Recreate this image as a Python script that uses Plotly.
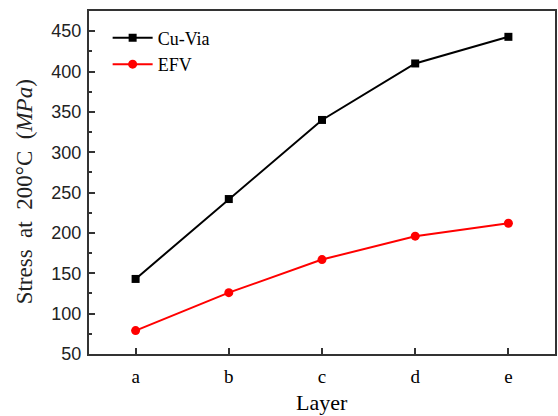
import plotly.graph_objects as go

layers = ["a", "b", "c", "d", "e"]
cu_via = [143, 242, 340, 410, 443]
efv = [79, 126, 167, 196, 212]

fig = go.Figure()
fig.add_trace(go.Scatter(x=layers, y=cu_via, mode="lines+markers", name="Cu-Via",
                         line=dict(color="black", width=2),
                         marker=dict(symbol="square", size=8, color="black")))
fig.add_trace(go.Scatter(x=layers, y=efv, mode="lines+markers", name="EFV",
                         line=dict(color="red", width=2),
                         marker=dict(symbol="circle", size=9, color="red")))

axis_common = dict(showline=True, linecolor="#333", linewidth=2, mirror=True,
                   showgrid=False, zeroline=False, ticks="inside", tickcolor="#333")
fig.update_layout(
    width=558, height=416,
    margin=dict(l=89, r=1, t=11, b=62),
    paper_bgcolor="white", plot_bgcolor="white",
    showlegend=True,
    legend=dict(x=0.04, y=0.975, xanchor="left", yanchor="top", itemwidth=40,
                font=dict(family="Liberation Serif", size=18, color="black"),
                bgcolor="rgba(0,0,0,0)", tracegroupgap=0),
    xaxis=dict(**axis_common, range=[-0.5, 4.5], ticklen=6, tickwidth=1.5, ticklabelstandoff=4,
               tickfont=dict(family="Liberation Serif", size=19, color="black")),
    yaxis=dict(**axis_common, range=[50, 475], dtick=50, tick0=50, ticklen=6, tickwidth=1.5,
               ticklabelstandoff=2,
               tickfont=dict(family="Liberation Sans", size=18, color="#222"),
               minor=dict(ticks="inside", ticklen=3, dtick=25, tick0=50, tickcolor="#333", tickwidth=1.5)),
    annotations=[
        dict(text="Stress  at  200°C  (<i>MPa</i>)", xref="paper", yref="paper",
             x=-0.139, y=0.472, xanchor="center", yanchor="middle", textangle=-90,
             showarrow=False, font=dict(family="Liberation Serif", size=23, color="#222")),
        dict(text="Layer", xref="paper", yref="paper", x=0.5, y=-0.142,
             xanchor="center", yanchor="middle", showarrow=False,
             font=dict(family="Liberation Serif", size=22, color="black")),
    ],
)
fig.write_html("out.html", config={"displayModeBar": False},
               post_script="document.body.style.margin='0';")
